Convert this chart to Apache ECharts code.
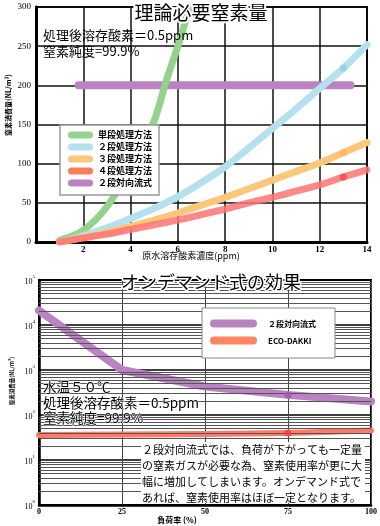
<!DOCTYPE html>
<html><head><meta charset="utf-8">
<script src="https://cdn.jsdelivr.net/npm/echarts@6/dist/echarts.min.js"></script>
<style>html,body{margin:0;padding:0;background:#fff}#c{width:380px;height:526px}</style>
</head><body><div id="c"></div>
<script>
// ---------- Top chart: 理論必要窒素量 ----------
const topLegendNames = ['単段処理方法', '２段処理方法', '３段処理方法', '４段処理方法', '２段対向流式'];
const singleStage = [[1, 2], [2, 15], [3, 45], [4, 95], [5, 155], [5.5, 205], [6, 250], [6.5, 300]];
const twoStage = [[1, 0], [2, 8], [3, 18], [4, 30], [5, 43], [6, 58], [7, 76], [8, 96], [9, 120], [10, 145], [11, 170], [12, 196], [13, 222], [14, 252]];
const threeStage = [[1, 0], [2, 6], [3, 12], [4, 20], [5, 28], [6, 37], [7, 47], [8, 57], [9, 68], [10, 79], [11, 90], [12, 101], [13, 114], [14, 127]];
const fourStage = [[1, 0], [2, 5], [3, 10], [4, 16], [5, 22], [6, 28], [7, 35], [8, 42], [9, 50], [10, 57], [11, 65], [12, 73], [13, 83], [14, 92]];
const counterFlowTop = [[1.8, 200], [13.3, 200]];
const topMarkersBlue = [[13, 222]];
const topMarkersOrange = [[13, 114]];
const topMarkersRed = [[13, 83]];

// ---------- Bottom chart: オンデマンド式の効果 ----------
const loadRate = [0, 25, 50, 75, 100];
const counterFlow = [21000, 1000, 430, 280, 200];
const ecoDakki = [36, 37, 38, 40, 45];
const bottomMarkerX = 75;
const bottomMarkerPurple = 280;
const bottomMarkerEco = 40;
const bottomLegendNames = ['２段対向流式', 'ECO-DAKKI'];

const FONT = '"Noto Sans CJK JP", "Noto Sans", sans-serif';
const SERIF = '"Liberation Serif", "DejaVu Serif", serif';

const C = {
  green: '#93d38b', blue: '#b3e1ee', orange: '#fcc77a', red: '#ff7474', purple: '#b983c1',
  legRed: '#ff7c58', eco: '#ff7a6a'
};

// minor log gridline values (2..9 x 10^k)
const minorLogLines = [];
for (let k = 0; k < 5; k++) for (let m = 2; m <= 9; m++) minorLogLines.push({ yAxis: m * Math.pow(10, k) });

const pair = (xs, ys) => xs.map((x, i) => [x, ys[i]]);

const iconTop = 'path://M3.5,0 H21.5 A3.5,3.5 0 0 1 21.5,7 H3.5 A3.5,3.5 0 0 1 3.5,0 Z';
const iconBot = 'path://M4,0 H43 A4,4 0 0 1 43,8 H4 A4,4 0 0 1 4,0 Z';

const topColors = [C.green, C.blue, C.orange, C.legRed, C.purple];
const botColors = [C.purple, '#ff8563'];

function lineSeries(name, data, color, width, z, xi) {
  return {
    type: 'line', name, data, xAxisIndex: xi, yAxisIndex: xi,
    smooth: 0.3, showSymbol: false, symbol: 'none', z,
    itemStyle: { color }, silent: true,
    lineStyle: { color, width, cap: 'round', join: 'round' }
  };
}
function dots(data, color, xi) {
  return { type: 'scatter', data, xAxisIndex: xi, yAxisIndex: xi, symbolSize: 7, z: 10, silent: true, itemStyle: { color } };
}

const chart = echarts.init(document.getElementById('c'), null, { renderer: 'canvas' });
chart.setOption({
  animation: false,
  backgroundColor: '#fff',
  grid: [
    { left: 36, right: 13, top: 7, height: 235, show: true, borderColor: '#000', borderWidth: 2, backgroundColor: 'transparent' },
    { left: 39, right: 8, top: 280, height: 225, show: true, borderColor: '#000', borderWidth: 2, backgroundColor: 'transparent' }
  ],
  xAxis: [
    {
      type: 'value', gridIndex: 0, min: 0, max: 14, interval: 2,
      axisLine: { show: true, lineStyle: { color: '#000', width: 3 } },
      axisTick: { show: false },
      axisLabel: { margin: 3, fontSize: 9, color: '#000', fontFamily: SERIF, fontWeight: 'bold', formatter: v => v === 0 ? '' : String(v) },
      splitLine: { show: true, lineStyle: { color: '#111', width: 1.5 } }
    },
    {
      type: 'value', gridIndex: 1, min: 0, max: 100, interval: 25,
      axisLine: { show: true, lineStyle: { color: '#000', width: 2.5 } },
      axisTick: { show: false },
      axisLabel: { margin: 3, fontSize: 8, color: '#000', fontFamily: SERIF, fontWeight: 'bold' },
      splitLine: { show: true, lineStyle: { color: '#444', width: 1 } }
    }
  ],
  yAxis: [
    {
      type: 'value', gridIndex: 0, min: 0, max: 300, interval: 50,
      axisLine: { show: true, lineStyle: { color: '#000', width: 3 } },
      axisTick: { show: false },
      axisLabel: { margin: 5, fontSize: 9, color: '#000', fontFamily: SERIF },
      splitLine: { show: true, lineStyle: { color: '#111', width: 1.5 } }
    },
    {
      type: 'log', gridIndex: 1, min: 1, max: 100000, logBase: 10,
      axisLine: { show: true, lineStyle: { color: '#000', width: 2.5 } },
      axisTick: { show: false },
      axisLabel: {
        margin: 4, color: '#000',
        formatter: v => '{b|10}{s|' + Math.round(Math.log10(v)) + '}',
        rich: {
          b: { fontSize: 8, fontFamily: SERIF, lineHeight: 12, verticalAlign: 'bottom' },
          s: { fontSize: 5, fontFamily: SERIF, lineHeight: 12, verticalAlign: 'top' }
        }
      },
      splitLine: { show: true, lineStyle: { color: '#000', width: 1.5 } }
    }
  ],
  legend: [
    {
      orient: 'vertical', left: 60, top: 125, z: 30,
      padding: [4, 7, 6, 8], itemWidth: 25, itemHeight: 7, itemGap: 0,
      backgroundColor: '#fff', borderColor: '#999', borderWidth: 1.5, borderRadius: 0,
      selectedMode: false,
      textStyle: { fontSize: 9, lineHeight: 12, color: '#000', fontFamily: FONT, fontWeight: 'bold' },
      data: topLegendNames.map((n, i) => ({ name: n, icon: iconTop, itemStyle: { color: topColors[i] } }))
    },
    {
      orient: 'vertical', left: 202, top: 308, z: 30,
      padding: [10, 19, 12, 8], itemWidth: 47, itemHeight: 8, itemGap: 6,
      backgroundColor: '#fff', borderColor: '#888', borderWidth: 1,
      selectedMode: false,
      textStyle: { fontSize: 8, lineHeight: 11, color: '#000', fontFamily: FONT, fontWeight: 'bold', padding: [0, 0, 0, 6] },
      data: bottomLegendNames.map((n, i) => ({ name: n, icon: iconBot, itemStyle: { color: botColors[i] } }))
    }
  ],
  series: [
    lineSeries('２段対向流式', counterFlowTop, C.purple, 8, 3, 0),
    lineSeries('単段処理方法', singleStage, C.green, 7, 4, 0),
    lineSeries('２段処理方法', twoStage, C.blue, 7, 5, 0),
    lineSeries('３段処理方法', threeStage, C.orange, 7, 6, 0),
    Object.assign(lineSeries('４段処理方法', fourStage, C.red, 7, 7, 0), { lineStyle: { color: C.red, width: 7, cap: 'round', opacity: 0.85 } }),
    dots(topMarkersBlue, '#8fcfe1', 0),
    dots(topMarkersOrange, '#f7b55a', 0),
    dots(topMarkersRed, '#ff4545', 0),
    {
      type: 'line', xAxisIndex: 1, yAxisIndex: 1, data: [], z: 1, silent: true,
      markLine: { silent: true, symbol: 'none', label: { show: false }, lineStyle: { color: '#555', width: 1, type: 'solid' }, data: minorLogLines, animation: false }
    },
    Object.assign(lineSeries('２段対向流式', pair(loadRate, counterFlow), C.purple, 8, 4, 1), { smooth: false }),
    Object.assign(lineSeries('ECO-DAKKI', pair(loadRate, ecoDakki), C.eco, 6, 4, 1), { smooth: false }),
    dots([[bottomMarkerX, bottomMarkerPurple]], '#9d55a8', 1),
    dots([[bottomMarkerX, bottomMarkerEco]], '#ff3b3b', 1)
  ],
  graphic: [
    { type: 'text', x: 201, y: 13, z: 100, style: { text: '理論必要窒素量', font: '19px ' + FONT, fill: '#000', stroke: '#fff', lineWidth: 4, textAlign: 'center', textVerticalAlign: 'middle' } },
    { type: 'text', x: 43, y: 35, z: 100, style: { text: '処理後溶存酸素＝0.5ppm', font: '13px ' + FONT, fill: '#000', textAlign: 'left', textVerticalAlign: 'middle' } },
    { type: 'text', x: 43, y: 51, z: 100, style: { text: '窒素純度=99.9%', font: '13px ' + FONT, fill: '#000', textAlign: 'left', textVerticalAlign: 'middle' } },
    { type: 'text', x: 8, y: 105, rotation: Math.PI / 2, z: 100, style: { text: '窒素消費量(NL/m³)', font: 'bold 7px ' + FONT, fill: '#000', textAlign: 'center', textVerticalAlign: 'middle' } },
    { type: 'text', x: 191, y: 256, z: 100, style: { text: '原水溶存酸素濃度(ppm)', font: '9px ' + FONT, fill: '#000', textAlign: 'center', textVerticalAlign: 'middle' } },

    { type: 'text', x: 211, y: 282, z: 100, style: { text: 'オンデマンド式の効果', font: '18px ' + FONT, fill: '#000', stroke: '#fff', lineWidth: 3, textAlign: 'center', textVerticalAlign: 'middle' } },
    { type: 'text', x: 43, y: 387, z: 100, style: { text: '水温５０℃', font: '13.5px ' + FONT, fill: '#000', stroke: '#fff', lineWidth: 1, textAlign: 'left', textVerticalAlign: 'middle' } },
    { type: 'text', x: 43, y: 403, z: 100, style: { text: '処理後溶存酸素＝0.5ppm', font: '13.5px ' + FONT, fill: '#000', stroke: '#fff', lineWidth: 1, textAlign: 'left', textVerticalAlign: 'middle' } },
    { type: 'text', x: 43, y: 418, z: 100, style: { text: '窒素純度=99.9%', font: '13.5px ' + FONT, fill: '#000', stroke: '#fff', lineWidth: 1, textAlign: 'left', textVerticalAlign: 'middle' } },
    { type: 'rect', z: 99, shape: { x: 141, y: 442, width: 224, height: 61 }, style: { fill: '#fff' } },
    { type: 'text', x: 142, y: 442, z: 100, style: { text: '２段対向流式では、負荷が下がっても一定量\nの窒素ガスが必要な為、窒素使用率が更に大\n幅に増加してしまいます。オンデマンド式で\nあれば、窒素使用率はほぼ一定となります。', font: '11px ' + FONT, lineHeight: 16, fill: '#000', textAlign: 'left', textVerticalAlign: 'top' } },
    { type: 'text', x: 12, y: 381, rotation: Math.PI / 2, z: 100, style: { text: '窒素消費量(NL/m³)', font: 'bold 5.5px ' + FONT, fill: '#000', textAlign: 'center', textVerticalAlign: 'middle' } },
    { type: 'text', x: 177, y: 520, z: 100, style: { text: '負荷率 (%)', font: 'bold 8px ' + FONT, fill: '#000', textAlign: 'center', textVerticalAlign: 'middle' } }
  ]
});
</script></body></html>
